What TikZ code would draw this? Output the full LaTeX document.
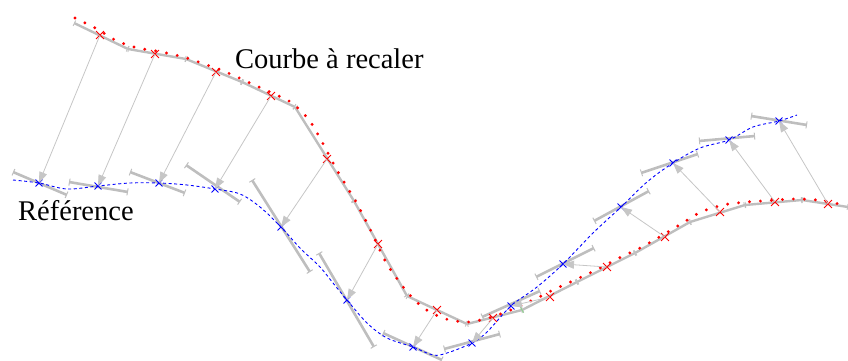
\documentclass[tikz,border=0pt]{standalone}
\usepackage{fontspec}
\setmainfont{Liberation Serif}
\usetikzlibrary{arrows.meta,shapes.misc}
\definecolor{lgray}{RGB}{190,190,190}
\definecolor{agray}{RGB}{198,198,198}
\definecolor{tickgreen}{RGB}{140,210,140}
\begin{document}
\begin{tikzpicture}[x=1pt,y=-1pt,
  polyseg/.style={draw=lgray,line width=2.4pt,line cap=butt,
    {Bar[width=6pt,line width=0.9pt]}-{Bar[width=6pt,line width=0.9pt]}},
  tanseg/.style={draw=lgray,line width=2.6pt,
    {Bar[width=7pt,line width=1pt]}-{Bar[width=7pt,line width=1pt]}},
  arr/.style={draw=agray,line width=0.8pt,
    -{Triangle[length=11pt,width=8pt,fill=agray]}},
  reddots/.style={draw=red,line width=3.2pt,line cap=round,dash pattern=on 0pt off 11pt},
  bluedash/.style={draw=blue,line width=0.9pt,dash pattern=on 3pt off 2.6pt},
  rx/.style={cross out,draw=red,line width=0.9pt,minimum size=7pt,inner sep=0pt},
  bx/.style={cross out,draw=blue,line width=0.9pt,minimum size=6pt,inner sep=0pt},
  lbl/.style={font=\fontsize{28.5}{34}\selectfont,inner sep=0pt,anchor=base west}
]
\useasboundingbox (0,0) rectangle (848,361);

% vertices of the polyline to be registered
\coordinate (p1) at (74,23);
\coordinate (p2) at (128,49);
\coordinate (p3) at (186,59);
\coordinate (p4) at (242,82);
\coordinate (p5) at (295,107);
\coordinate (p6) at (354,201);
\coordinate (p7) at (407,296);
\coordinate (p8) at (467,324);
\coordinate (p9) at (522,310);
\coordinate (p10) at (577,282);
\coordinate (p11) at (635,253);
\coordinate (p12) at (690,222);
\coordinate (p13) at (745,205);
\coordinate (p14) at (802,200);
\coordinate (p15) at (848,207);

\foreach \a/\b in {p1/p2,p2/p3,p3/p4,p4/p5,p5/p6,p6/p7,p7/p8,p8/p9,p9/p10,p10/p11,p11/p12,p12/p13,p13/p14,p14/p15}
  \draw[polyseg] (\a) -- (\b);
\draw[tickgreen,line width=0.9pt] (520.6,307.3) -- (523.4,312.7);

% tangent segments at the reference points
\draw[tanseg] (13,172) -- (67,195);
\draw[tanseg] (69,182) -- (128,192);
\draw[tanseg] (130,172) -- (185,193);
\draw[tanseg] (186,165) -- (240,202);
\draw[tanseg] (252,180) -- (310,272);
\draw[tanseg] (319,253) -- (374,347);
\draw[tanseg] (383,333) -- (442,360);
\draw[tanseg] (444,349) -- (500,334);
\draw[tanseg] (482,317) -- (540,291);
\draw[tanseg] (536,277) -- (594,248);
\draw[tanseg] (594,221) -- (649,191);
\draw[tanseg] (641,173) -- (698,154);
\draw[tanseg] (699,141) -- (755,136);
\draw[tanseg] (751,116) -- (807,125);

% reference curve
\draw[bluedash] plot[smooth,tension=0.55] coordinates {(13,180) (39,183) (67,189) (98,186) (130,183) (159,183) (187,185) (215,189) (240,194) (260,207) (281,227) (300,248) (320,267) (333,283) (347,300) (367,323) (387,338) (413,347) (433,355) (447,353) (472,343) (487,332) (511,306) (537,287) (563,264) (593,233) (621,207) (647,182) (673,163) (700,148) (729,140) (753,127) (779,121) (797,115)};

% curve to be registered
\draw[reddots] plot[smooth,tension=0.5] coordinates {(75,18) (97,29) (117,41) (138,48) (162,52) (185,57.5) (207,65) (228,73) (250,83) (272,93) (292,103) (309,120) (321,140) (338,172) (356,202) (372,233) (387,264) (408,293) (425,309) (446,319) (469,322) (492,317) (513,309) (535,299) (555,289) (577,279) (598,269) (619,258) (640,248) (661,236) (681,224) (701,212) (723,205) (747,202) (770,200.5) (793,199) (817,200) (839,204)};

% sample points
\node[rx] (r1) at (100,35) {};
\node[rx] (r2) at (155,54) {};
\node[rx] (r3) at (216,72) {};
\node[rx] (r4) at (271,96) {};
\node[rx] (r5) at (327,159) {};
\node[rx] (r6) at (378,244) {};
\node[rx] (r7) at (437,310) {};
\node[rx] (r8) at (493,318) {};
\node[rx] (r9) at (550,297) {};
\node[rx] (r10) at (607,267) {};
\node[rx] (r11) at (665,237) {};
\node[rx] (r12) at (720,212) {};
\node[rx] (r13) at (775,202) {};
\node[rx] (r14) at (828,204) {};

\node[bx] (b1) at (39,183) {};
\node[bx] (b2) at (98,186) {};
\node[bx] (b3) at (159,183) {};
\node[bx] (b4) at (215,189) {};
\node[bx] (b5) at (281,227) {};
\node[bx] (b6) at (347,300) {};
\node[bx] (b7) at (413,347) {};
\node[bx] (b8) at (472,343) {};
\node[bx] (b9) at (511,306) {};
\node[bx] (b10) at (563,264) {};
\node[bx] (b11) at (621,207) {};
\node[bx] (b12) at (673,163) {};
\node[bx] (b13) at (729,140) {};
\node[bx] (b14) at (779,121) {};

\foreach \i in {1,...,14}
  \draw[arr] (r\i.center) -- (b\i.center);

\node[lbl] (courbe) at (235,68) {Courbe à recaler};
\node[lbl] (ref) at (18,220) {Référence};
\end{tikzpicture}
\end{document}
